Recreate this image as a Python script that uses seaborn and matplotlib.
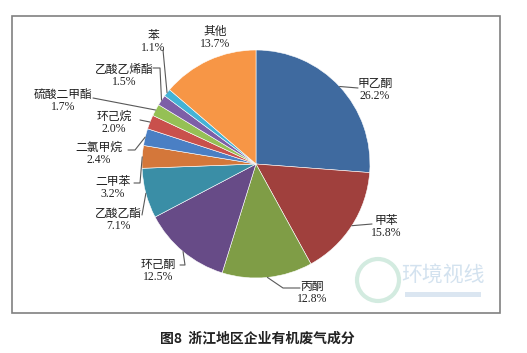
import numpy as np
import matplotlib
matplotlib.use("Agg")
import matplotlib.pyplot as plt
import seaborn as sns
from matplotlib.patches import Rectangle, Circle

# 数据
names = ["甲乙酮", "甲苯", "丙酮", "环己酮", "乙酸乙酯", "二甲苯",
         "二氯甲烷", "环己烷", "硫酸二甲酯", "乙酸乙烯酯", "苯", "其他"]
shares = [26.2, 15.8, 12.8, 12.5, 7.1, 3.2, 2.4, 2.0, 1.7, 1.5, 1.1, 13.7]
colors = ["#3F6A9F", "#A0403D", "#7F9D46", "#674B87", "#3A8EA6", "#D4773A",
          "#4A7FC4", "#C9504C", "#95C055", "#7D5FA7", "#43B3D6", "#F79646"]

# 标签位置 (像素) 和引导线
label_xy = [(375, 90), (386, 227), (312, 293), (158, 271), (118, 220), (113, 188),
            (99, 154), (114, 123), (63, 101), (124, 76), (153, 42), (215, 38)]
leaders = [[(358, 88)], [(372, 224)], [(283, 288), (300, 288)],
           [(185, 265), (180, 265)], [(142, 215)], [(140, 183), (134, 183)],
           [(135, 150), (128, 150)], [(140, 120)], [(93, 98)],
           [(160, 68), (153, 68)], [(163, 50)], []]

sns.set_style("white")
plt.rcParams['font.family'] = ['Liberation Serif', 'Noto Sans CJK SC', 'DejaVu Sans']

W, H = 527, 353
cx, cy, R = 256, 164, 114

fig = plt.figure(figsize=(W / 100, H / 100), dpi=100)
ax = fig.add_axes([0, 0, 1, 1])

pal = sns.color_palette(colors)
ax.pie(shares, colors=pal, center=(cx, cy), radius=R, startangle=-90,
       counterclock=True, wedgeprops=dict(edgecolor="white", linewidth=0.4))
ax.set_xlim(0, W)
ax.set_ylim(H, 0)
ax.axis("off")

# 引导线和标签
cum = np.cumsum([0] + shares[:-1])
for i, name in enumerate(names):
    mid = (cum[i] + shares[i] / 2) / 100 * 360
    th = np.deg2rad(-90 + mid)
    sx, sy = cx + R * np.cos(th), cy + R * np.sin(th)
    if leaders[i]:
        xs = [sx] + [p[0] for p in leaders[i]]
        ys = [sy] + [p[1] for p in leaders[i]]
        ax.plot(xs, ys, color="#595959", lw=0.8)
    ax.text(label_xy[i][0], label_xy[i][1], f"{name}\n{shares[i]:.1f}%",
            ha="center", va="center", fontsize=8.5, color="#222222", linespacing=1.1)

# 外框
ax.add_patch(Rectangle((12, 16), 488, 297, fill=False, edgecolor="#808080", lw=1.2))

# 水印
ax.add_patch(Circle((378, 280), 21, fill=False, edgecolor="#d3ebe0", lw=3))
ax.text(443, 276, "环境视线", ha="center", va="center", fontsize=15, color="#d3e2ef",
        family=["Noto Sans CJK SC"])
ax.add_patch(Rectangle((405, 292), 76, 5, facecolor="#dbe6f1", edgecolor="none"))

# 标题
ax.text(257, 338, "图8  浙江地区企业有机废气成分", ha="center", va="center",
        fontsize=10, fontweight="bold", color="#222222",
        family=["Noto Sans CJK SC", "DejaVu Sans"])

plt.savefig("out.png", dpi=100)
